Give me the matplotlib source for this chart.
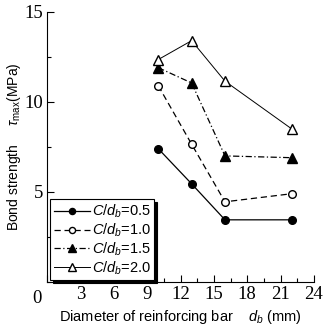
import matplotlib
matplotlib.use("Agg")
import matplotlib.pyplot as plt
from matplotlib.ticker import MultipleLocator

diameters = [10, 13, 16, 22]
cd_05 = [7.4, 5.45, 3.45, 3.45]
cd_10 = [10.9, 7.65, 4.45, 4.9]
cd_15 = [11.9, 11.05, 7.0, 6.9]
cd_20 = [12.35, 13.4, 11.15, 8.5]

x_ticks = [0, 3, 6, 9, 12, 15, 18, 21, 24]
y_ticks = [5, 10, 15]

plt.rcParams["font.family"] = ["Liberation Sans", "DejaVu Sans"]
plt.rcParams["mathtext.fontset"] = "custom"
plt.rcParams["mathtext.it"] = "Liberation Sans:italic"
plt.rcParams["mathtext.rm"] = "Liberation Sans"

fig = plt.figure(figsize=(3.27, 3.29), dpi=100)
ax = fig.add_axes([0.144, 0.143, 0.816, 0.821])

ax.plot(diameters, cd_05, color="black", lw=0.9, ls="-", marker="o", ms=5.5,
        mfc="black", mec="black", label=r"$C/d_b$=0.5")
ax.plot(diameters, cd_10, color="black", lw=0.9, ls=(0, (5, 3)), marker="o", ms=5.5,
        mfc="white", mec="black", label=r"$C/d_b$=1.0")
ax.plot(diameters, cd_15, color="black", lw=0.9, ls=(0, (5, 2, 1, 2)), marker="^", ms=6.5,
        mfc="black", mec="black", label=r"$C/d_b$=1.5")
ax.plot(diameters, cd_20, color="black", lw=0.7, ls="-", marker="^", ms=6.5,
        mfc="white", mec="black", label=r"$C/d_b$=2.0")

ax.set_xlim(0, 24)
ax.set_ylim(0, 15)
ax.set_xticks(x_ticks)
ax.set_yticks(y_ticks)
ax.xaxis.set_minor_locator(MultipleLocator(1.5))
ax.yaxis.set_minor_locator(MultipleLocator(2.5))
ax.tick_params(which="both", direction="in", width=0.8, pad=3)
ax.tick_params(which="major", length=5)
ax.tick_params(which="minor", length=3)
ax.set_xticklabels([""] + [str(v) for v in x_ticks[1:]])
for lab in ax.get_xticklabels() + ax.get_yticklabels():
    lab.set_fontfamily("Liberation Serif")
    lab.set_fontsize(13.5)
ax.text(-0.5, -0.45, "0", transform=ax.transData, ha="right", va="top",
        fontsize=13.5, family="Liberation Serif")

ax.spines["top"].set_visible(False)
ax.spines["right"].set_visible(False)

ax.set_xlabel(r"Diameter of reinforcing bar    $d_b$ (mm)", fontsize=10.5)
ax.xaxis.set_label_coords(0.5, -0.095)
ax.set_ylabel(r"Bond strength     $\tau_{\rm max}$(MPa)", fontsize=10)
ax.yaxis.set_label_coords(-0.09, 0.5)

leg = ax.legend(loc="lower left", bbox_to_anchor=(0.0, -0.005), fontsize=10.5,
                handlelength=2.5, handletextpad=0.1, borderpad=0.25,
                labelspacing=0.1, markerscale=0.8, borderaxespad=0.2,
                frameon=True, fancybox=False,
                shadow={"color": "black", "alpha": 1})
leg.get_frame().set_edgecolor("black")
leg.get_frame().set_linewidth(0.8)

fig.savefig("out.png", dpi=100)
